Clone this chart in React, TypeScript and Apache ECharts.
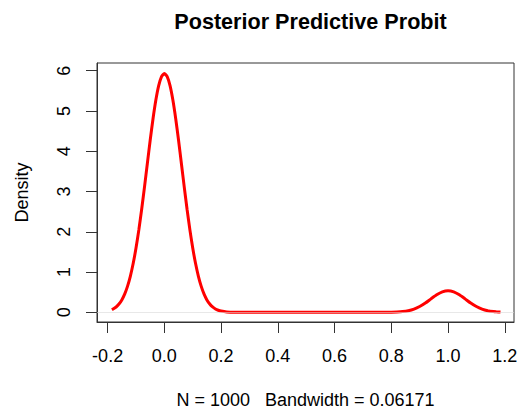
import React, { useEffect, useRef } from "react";
import * as echarts from "echarts";

const titleText = "Posterior Predictive Probit";
const xAxisTitle = "N = 1000   Bandwidth = 0.06171";
const yAxisTitle = "Density";

const xTicks = [-0.2, 0.0, 0.2, 0.4, 0.6, 0.8, 1.0, 1.2];
const yTicks = [0, 1, 2, 3, 4, 5, 6];

const xValues = [
  -0.185, -0.17, -0.16, -0.15, -0.14, -0.13, -0.12, -0.11, -0.1, -0.09, -0.08, -0.07, -0.06, -0.05, -0.04, -0.03,
  -0.02, -0.01, 0.0, 0.01, 0.02, 0.03, 0.04, 0.05, 0.06, 0.07, 0.08, 0.09, 0.1, 0.11, 0.12, 0.13, 0.14, 0.15, 0.16,
  0.17, 0.18, 0.19, 0.2, 0.22, 0.25, 0.3, 0.4, 0.5, 0.6, 0.7, 0.75, 0.8, 0.82, 0.84, 0.86, 0.88, 0.9, 0.92, 0.94,
  0.96, 0.98, 1.0, 1.02, 1.04, 1.06, 1.08, 1.1, 1.12, 1.14, 1.16, 1.17, 1.185,
];
const densityValues = [
  0.066, 0.133, 0.206, 0.309, 0.452, 0.645, 0.895, 1.211, 1.595, 2.047, 2.559, 3.116, 3.696, 4.271, 4.806, 5.269,
  5.626, 5.853, 5.93, 5.853, 5.626, 5.269, 4.806, 4.271, 3.696, 3.116, 2.559, 2.047, 1.595, 1.211, 0.895, 0.645, 0.452,
  0.309, 0.206, 0.133, 0.084, 0.052, 0.031, 0.01, 0.002, 0.0, 0.0, 0.0, 0.0, 0.0, 0.0001, 0.0028, 0.0076, 0.0186,
  0.0409, 0.0811, 0.1445, 0.2318, 0.3347, 0.4352, 0.5095, 0.537, 0.5095, 0.4352, 0.3347, 0.2318, 0.1445, 0.0811,
  0.0409, 0.0186, 0.0121, 0.006,
];

const FONT = "'Liberation Sans', Arial, Helvetica, sans-serif";
const AXIS_COLOR = "#333";

export default function App() {
  const ref = useRef<HTMLDivElement>(null);

  useEffect(() => {
    if (!ref.current) return;
    const chart = echarts.init(ref.current, null, { renderer: "svg" });
    const data = xValues.map((x, i) => [x, densityValues[i]]);
    chart.setOption({
      animation: false,
      backgroundColor: "#ffffff",
      textStyle: { fontFamily: FONT },
      title: {
        text: titleText,
        left: 305.5,
        top: 5,
        textAlign: "center",
        textStyle: { fontFamily: FONT, fontSize: 21.6, fontWeight: "bold", color: "#000" },
      },
      grid: {
        left: 97,
        top: 63,
        width: 417,
        height: 259,
        containLabel: false,
        outerBoundsMode: "none",
        show: true,
        borderColor: AXIS_COLOR,
        borderWidth: 1,
        backgroundColor: "transparent",
      },
      xAxis: {
        type: "value",
        min: -0.2375,
        max: 1.2326,
        name: xAxisTitle,
        nameLocation: "middle",
        nameGap: 69,
        nameTextStyle: { fontFamily: FONT, fontSize: 18, color: "#000" },
        axisLine: { show: true, onZero: false, lineStyle: { color: AXIS_COLOR, width: 1 } },
        axisTick: { show: true, length: 11, customValues: xTicks, lineStyle: { color: AXIS_COLOR, width: 1 } },
        axisLabel: {
          customValues: xTicks,
          margin: 25,
          fontFamily: FONT,
          fontSize: 18,
          color: "#000",
          formatter: (v: number) => v.toFixed(1),
        },
        splitLine: { show: false },
      },
      yAxis: {
        type: "value",
        min: -0.24,
        max: 6.19,
        name: yAxisTitle,
        nameLocation: "middle",
        nameGap: 66,
        nameRotate: 90,
        nameTextStyle: { fontFamily: FONT, fontSize: 18, color: "#000" },
        axisLine: { show: true, onZero: false, lineStyle: { color: AXIS_COLOR, width: 1 } },
        axisTick: { show: true, length: 11, customValues: yTicks, lineStyle: { color: AXIS_COLOR, width: 1 } },
        axisLabel: {
          customValues: yTicks,
          rotate: 90,
          margin: 24,
          fontFamily: FONT,
          fontSize: 18,
          color: "#000",
          formatter: (v: number) => String(v),
        },
        splitLine: { show: false },
      },
      series: [
        {
          type: "line",
          data,
          showSymbol: false,
          smooth: 0.2,
          lineStyle: { color: "#ff0000", width: 3 },
          itemStyle: { color: "#ff0000" },
          markLine: {
            silent: true,
            symbol: "none",
            label: { show: false },
            lineStyle: { color: "#d9d9d9", width: 0.6, type: "solid" },
            data: [{ yAxis: 0 }],
          },
          z: 3,
        },
      ],
    });
    return () => chart.dispose();
  }, []);

  return (
    <div
      ref={ref}
      style={{ position: "absolute", left: 0, top: 0, width: 518, height: 411 }}
    />
  );
}
